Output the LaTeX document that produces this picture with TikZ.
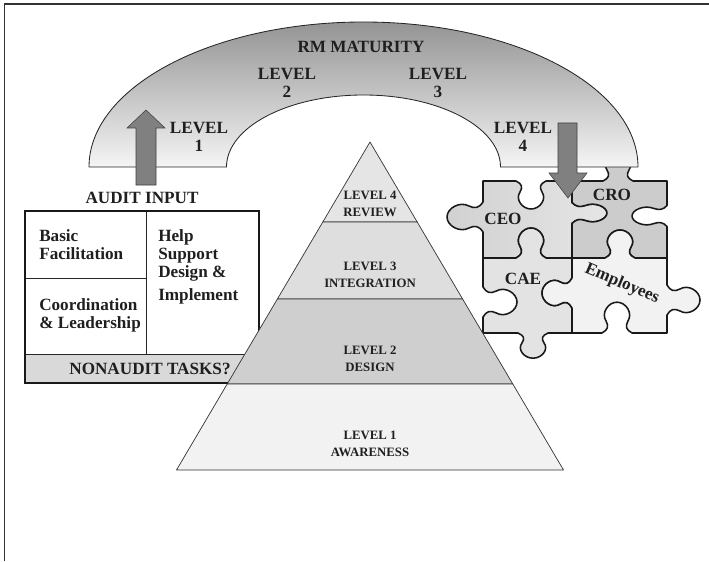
\documentclass[tikz,border=0pt]{standalone}
\usepackage{fontspec}
\setmainfont{Liberation Serif}
\tikzstyle{lbl} = [font=\fontsize{12.2}{13}\selectfont\bfseries, text=black!88, align=center, inner sep=0pt]
\tikzstyle{cell} = [font=\fontsize{12.2}{13}\selectfont\bfseries, text=black!88, align=left, anchor=north west, inner sep=0pt]
\tikzstyle{tierlbl} = [font=\fontsize{9.1}{12}\selectfont\bfseries, text=black!88, align=center, inner sep=0pt]
\tikzstyle{tier} = [draw=black!80, line width=0.5pt, line join=round]
\tikzstyle{piece} = [draw=black!90, line width=1.1pt, line join=round]
\tikzstyle{fatarrow} = [draw=black!75, fill=black!50, line width=0.4pt]
\begin{document}
\begin{tikzpicture}[x=0.025cm, y=0.025cm]
\useasboundingbox (0,0) rectangle (709,561);

% frame
\draw[black!80, line width=1pt] (4.5,0) -- (4.5,557) -- (709,557);

% puzzle: CEO, CRO, CAE, Employees
\path[piece, left color=black!18, right color=black!10] (483,380) -- (516,380) .. controls (522,377) and (523,374) .. (520,369) .. controls (515,362) and (522,352) .. (531,352) .. controls (540,352) and (547,362) .. (542,369) .. controls (539,374) and (540,377) .. (546,380) -- (572,380) -- (572,358.5) .. controls (576,354.3) and (579.5,353.6) .. (586,355.7) .. controls (594.5,359.2) and (607,354.3) .. (607,348) .. controls (607,341.7) and (594.5,336.8) .. (586,340.3) .. controls (579.5,342.4) and (576,341.7) .. (572,337.5) -- (572,303) -- (546,303) .. controls (540,306.2) and (539,309.4) .. (542,314.8) .. controls (547,322.3) and (540,333) .. (531,333) .. controls (522,333) and (515,322.3) .. (520,314.8) .. controls (523,309.4) and (522,306.2) .. (516,303) -- (483,303) -- (483,329) .. controls (479,335) and (475,336) .. (469,333) .. controls (460,328) and (447,335) .. (447,344) .. controls (447,353) and (460,360) .. (469,355) .. controls (475,352) and (479,353) .. (483,359) -- cycle;

\path[piece, fill=black!20] (572,380) -- (603,380) .. controls (609,383) and (610,386) .. (607,391) .. controls (602,398) and (609,408) .. (618,408) .. controls (627,408) and (634,398) .. (629,391) .. controls (626,386) and (627,383) .. (633,380) -- (667,380) -- (667,355.5) .. controls (663.3,351.3) and (659.5,350.6) .. (653.3,352.7) .. controls (644.5,356.2) and (632,351.3) .. (632,345) .. controls (632,338.7) and (644.5,333.8) .. (653.3,337.3) .. controls (659.5,339.4) and (663.3,338.7) .. (667,334.5) -- (667,303) -- (635,303) .. controls (629,306) and (628,309) .. (631,314) .. controls (636,321) and (629,331) .. (620,331) .. controls (611,331) and (604,321) .. (609,314) .. controls (612,309) and (611,306) .. (605,303) -- (572,303) -- (572,337.5) .. controls (576,341.7) and (579.5,342.4) .. (586,340.3) .. controls (594.5,336.8) and (607,341.7) .. (607,348) .. controls (607,354.3) and (594.5,359.2) .. (586,355.7) .. controls (579.5,353.6) and (576,354.3) .. (572,358.5) -- cycle;

\path[piece, fill=black!11] (483,303) -- (516,303) .. controls (522,306.2) and (523,309.4) .. (520,314.8) .. controls (515,322.3) and (522,333) .. (531,333) .. controls (540,333) and (547,322.3) .. (542,314.8) .. controls (539,309.4) and (540,306.2) .. (546,303) -- (572,303) -- (572,283) .. controls (568.8,277) and (565.6,276) .. (560.2,279) .. controls (552.7,284) and (542,277) .. (542,268) .. controls (542,259) and (552.7,252) .. (560.2,257) .. controls (565.6,260) and (568.8,259) .. (572,253) -- (572,228) -- (548,228) .. controls (542,225.3) and (541,222.6) .. (544,218.1) .. controls (549,211.8) and (542,202.8) .. (533,202.8) .. controls (524,202.8) and (517,211.8) .. (522,218.1) .. controls (525,222.6) and (524,225.3) .. (518,228) -- (483,228) -- (483,244) .. controls (486.6,250) and (490.3,251) .. (496.3,248) .. controls (504.8,243) and (517,250) .. (517,259) .. controls (517,268) and (504.8,275) .. (496.3,270) .. controls (490.3,267) and (486.6,268) .. (483,274) -- cycle;

\path[piece, fill=black!5] (572,303) -- (605,303) .. controls (611,306) and (612,309) .. (609,314) .. controls (604,321) and (611,331) .. (620,331) .. controls (629,331) and (636,321) .. (631,314) .. controls (628,309) and (629,306) .. (635,303) -- (667,303) -- (667,276) .. controls (670.5,270) and (674.1,269) .. (680,272) .. controls (688.2,277) and (700,270) .. (700,261) .. controls (700,252) and (688.2,245) .. (680,250) .. controls (674.1,253) and (670.5,252) .. (667,246) -- (667,228) -- (632,228) .. controls (626,231.3) and (625,234.6) .. (628,240.1) .. controls (633,247.8) and (626,258.8) .. (617,258.8) .. controls (608,258.8) and (601,247.8) .. (606,240.1) .. controls (609,234.6) and (608,231.3) .. (602,228) -- (572,228) -- (572,253) .. controls (568.8,259) and (565.6,260) .. (560.2,257) .. controls (552.7,252) and (542,259) .. (542,268) .. controls (542,277) and (552.7,284) .. (560.2,279) .. controls (565.6,276) and (568.8,277) .. (572,283) -- cycle;

% maturity arch
\path[draw=black!85, line width=0.6pt, top color=black!42, bottom color=black!4] (89,394) arc[start angle=180, end angle=0, x radius=274.5, y radius=145] -- (500.5,394) arc[start angle=0, end angle=180, x radius=137, y radius=72] -- cycle;

% block arrows
\path[fatarrow] (136,376) -- (156,376) -- (156,433) -- (165,433) -- (146,451) -- (127,433) -- (136,433) -- cycle;
\path[fatarrow] (558,438) -- (577,438) -- (577,388) -- (587,388) -- (568,363) -- (549,388) -- (558,388) -- cycle;

% audit input box
\path[fill=black!15] (25,178) rectangle (259,207);
\draw[black!85, line width=0.6pt] (25,207) -- (259,207) (146,207) -- (146,350) (25,283) -- (146,283);
\draw[black!90, line width=1.5pt] (25,178) rectangle (259,350);

% pyramid
\path[tier, fill=black!10] (370,419) -- (417.2,339) -- (322.8,339) -- cycle;
\path[tier, fill=black!13] (322.8,339) -- (417.2,339) -- (462.6,262) -- (277.4,262) -- cycle;
\path[tier, fill=black!19] (277.4,262) -- (462.6,262) -- (512.8,177) -- (227.2,177) -- cycle;
\path[tier, fill=black!5] (227.2,177) -- (512.8,177) -- (563.5,91) -- (176.5,91) -- cycle;

% labels
\node (rmm) [lbl] at (361,514) {RM MATURITY};
\node (lev1) [lbl] at (199,424) {LEVEL\\1};
\node (lev2) [lbl] at (287,478) {LEVEL\\2};
\node (lev3) [lbl] at (438,478) {LEVEL\\3};
\node (lev4) [lbl] at (523,424) {LEVEL\\4};

\node (audit) [lbl] at (142,363) {AUDIT INPUT};
\node (basic) [cell] at (39,332) {Basic\\Facilitation};
\node (help) [cell] at (158,332) {Help\\Support\\Design \&\\[3.5pt]Implement};
\node (coord) [cell] at (39,263) {Coordination\\\& Leadership};
\node (nonaudit) [lbl] at (150,192) {NONAUDIT TASKS?};

\node (review) [tierlbl] at (370,357) {LEVEL 4\\REVIEW};
\node (integ) [tierlbl] at (370,286.5) {LEVEL 3\\INTEGRATION};
\node (design) [tierlbl] at (370,202.5) {LEVEL 2\\DESIGN};
\node (aware) [tierlbl] at (370,117.5) {LEVEL 1\\AWARENESS};

\node (ceo) [lbl] at (503,342) {CEO};
\node (cro) [lbl] at (612,366) {CRO};
\node (cae) [lbl] at (523,282) {CAE};
\node (emp) [lbl, rotate=-23] at (622,277) {Employees};

\end{tikzpicture}
\end{document}
